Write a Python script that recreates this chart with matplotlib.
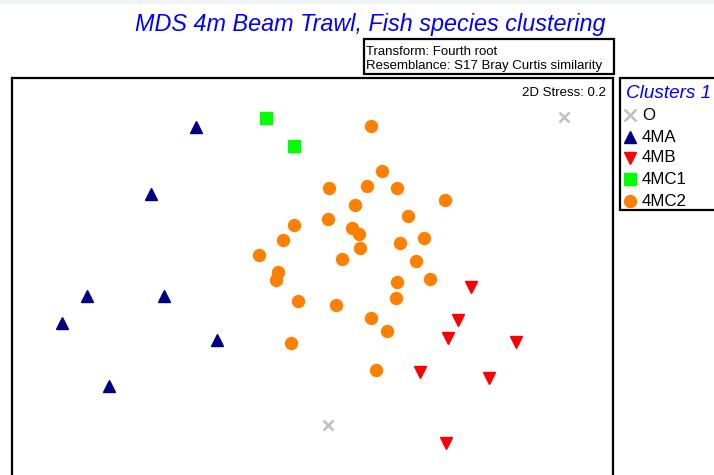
import matplotlib
matplotlib.use("Agg")
import matplotlib.pyplot as plt
from matplotlib.patches import Rectangle

plt.rcParams['font.family'] = ['Liberation Sans', 'DejaVu Sans']

# MDS coordinates
groups = ["O", "4MA", "4MB", "4MC1", "4MC2"]
o_x = [2.51, 0.15]
o_y = [1.53, -1.55]
ma_x = [-1.17, -1.62, -2.26, -1.49, -2.51, -0.96, -2.04]
ma_y = [1.43, 0.76, -0.26, -0.26, -0.53, -0.70, -1.16]
mb_x = [1.58, 1.45, 1.35, 2.03, 1.07, 1.76, 1.33]
mb_y = [-0.17, -0.50, -0.68, -0.72, -1.02, -1.08, -1.73]
mc1_x = [-0.47, -0.19]
mc1_y = [1.52, 1.24]
mc2_x = [0.58, 0.69, 0.16, 0.54, 0.84, 1.32, 0.42, 0.15, 0.95, -0.19,
         0.39, 0.46, -0.30, 0.87, 1.11, -0.54, 0.47, 0.29, 1.03, -0.35,
         -0.37, 0.84, 1.17, -0.15, 0.23, 0.83, 0.58, 0.74, -0.22, 0.63]
mc2_y = [1.44, 0.99, 0.82, 0.84, 0.82, 0.70, 0.65, 0.51, 0.54, 0.45,
         0.42, 0.36, 0.30, 0.27, 0.32, 0.15, 0.22, 0.11, 0.09, -0.02,
         -0.10, -0.12, -0.09, -0.31, -0.35, -0.28, -0.48, -0.61, -0.73, -1.00]

W, H = 714, 475
fig = plt.figure(figsize=(W / 100, H / 100), dpi=100)

def fx(px):
    return px / W

def fy(py):
    return 1 - py / H

# overlay axes in pixel coordinates for boxes / legend
ov = fig.add_axes([0, 0, 1, 1])
ov.set_xlim(0, W)
ov.set_ylim(H, 0)
ov.axis('off')
ov.add_patch(Rectangle((0, 0), W, 4, facecolor='#EEF4F8', edgecolor='none'))

# main plot box
left, right, top, bottom = 12, 613, 78, 485
ax = fig.add_axes([fx(left), fy(bottom), (right - left) / W, (bottom - top) / H])
ax.set_xlim(-3.01, 3.00)
ax.set_ylim(-2.15, 1.92)
ax.set_xticks([])
ax.set_yticks([])
for s in ax.spines.values():
    s.set_linewidth(1.6)
    s.set_color('black')

ax.plot(o_x, o_y, 'x', color='#C0C0C0', ms=7.5, mew=1.8, ls='none')
ax.plot(ma_x, ma_y, '^', color='#000080', ms=9.3, ls='none')
ax.plot(mb_x, mb_y, 'v', color='#FF0000', ms=9.3, ls='none')
ax.plot(mc1_x, mc1_y, 's', color='#00FF00', ms=8.6, ls='none')
ax.plot(mc2_x, mc2_y, 'o', color='#FF8000', ms=8.6, ls='none')

ax.text(0.988, 0.955, '2D Stress: 0.2', transform=ax.transAxes, ha='right',
        va='baseline', fontsize=9.5)

# title
fig.text(fx(370), fy(25), 'MDS 4m Beam Trawl, Fish species clustering',
         ha='center', va='center', color='#0000FF', fontsize=16.8, style='italic')

# transform box
ov.add_patch(Rectangle((364, 39), 250, 35, facecolor='white', edgecolor='black', lw=1.6))
ov.text(366, 55, 'Transform: Fourth root', fontsize=9.5, va='baseline', ha='left')
ov.text(366, 69, 'Resemblance: S17 Bray Curtis similarity', fontsize=9.5, va='baseline', ha='left')

# legend box
ov.add_patch(Rectangle((620, 78), 110, 132, facecolor='white', edgecolor='black', lw=1.6))
ov.text(626, 94, 'Clusters 1', color='#0000FF', style='italic', fontsize=13.6,
        ha='left', va='center')
leg_y = [115, 137, 158, 179, 201]
styles = [('x', '#C0C0C0', 8.0), ('^', '#000080', 9.3), ('v', '#FF0000', 9.3),
          ('s', '#00FF00', 8.6), ('o', '#FF8000', 8.6)]
for g, yy, (m, c, ms) in zip(groups, leg_y, styles):
    if m == 'x':
        ov.plot([630], [yy], m, color=c, ms=ms, mew=1.8)
    else:
        ov.plot([630], [yy], m, color=c, ms=ms)
    ov.text(642, yy, g, fontsize=12.2, ha='left', va='center')

fig.savefig('out.png', dpi=100)
